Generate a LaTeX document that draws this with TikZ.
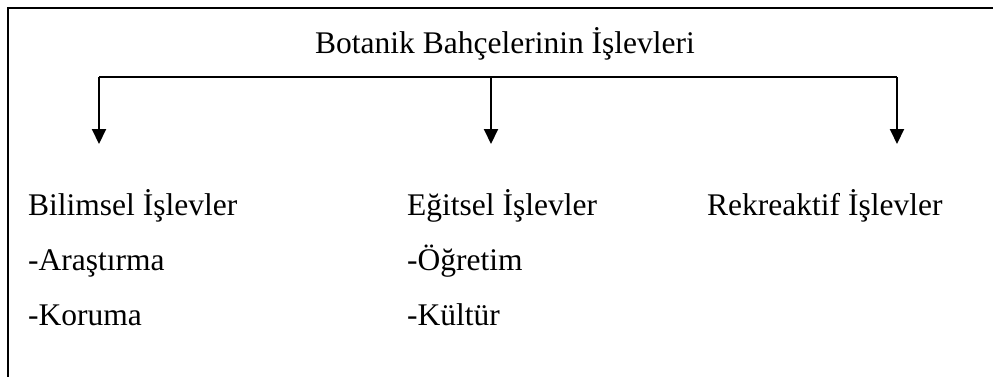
\documentclass[tikz,border=0pt]{standalone}
\usepackage{fontspec}
\setmainfont{Liberation Serif}
\usetikzlibrary{arrows.meta}
\begin{document}
\begin{tikzpicture}[x=1pt,y=-1pt,
  lbl/.style={anchor=base west,inner sep=0pt,font=\fontsize{31.5}{36}\selectfont},
  frameline/.style={line width=2.2pt},
  bracket/.style={line width=2pt},
  arr/.style={line width=2pt,-{Triangle[width=14pt,length=15pt]}}]
\useasboundingbox (0,0) rectangle (993,376);
\draw[frameline] (8,380) -- (8,8) -- (1000,8);
\node[lbl,anchor=base] (title) at (505,53) {Botanik Bahçelerinin İşlevleri};
\coordinate (bl) at (99,77);
\coordinate (bm) at (491,77);
\coordinate (br) at (897,77);
\coordinate (tl) at (99,144);
\coordinate (tm) at (491,144);
\coordinate (tr) at (897,144);
\draw[bracket] (bl) -- (br);
\draw[arr] (bl) -- (tl);
\draw[arr] (bm) -- (tm);
\draw[arr] (br) -- (tr);
\node[lbl] (bil) at (28,215) {Bilimsel İşlevler};
\node[lbl] (ara) at (28,270) {-Araştırma};
\node[lbl] (kor) at (28,325) {-Koruma};
\node[lbl] (egi) at (407,215) {Eğitsel İşlevler};
\node[lbl] (ogr) at (407,270) {-Öğretim};
\node[lbl] (kul) at (407,325) {-Kültür};
\node[lbl] (rek) at (707,215) {Rekreaktif İşlevler};
\end{tikzpicture}
\end{document}
